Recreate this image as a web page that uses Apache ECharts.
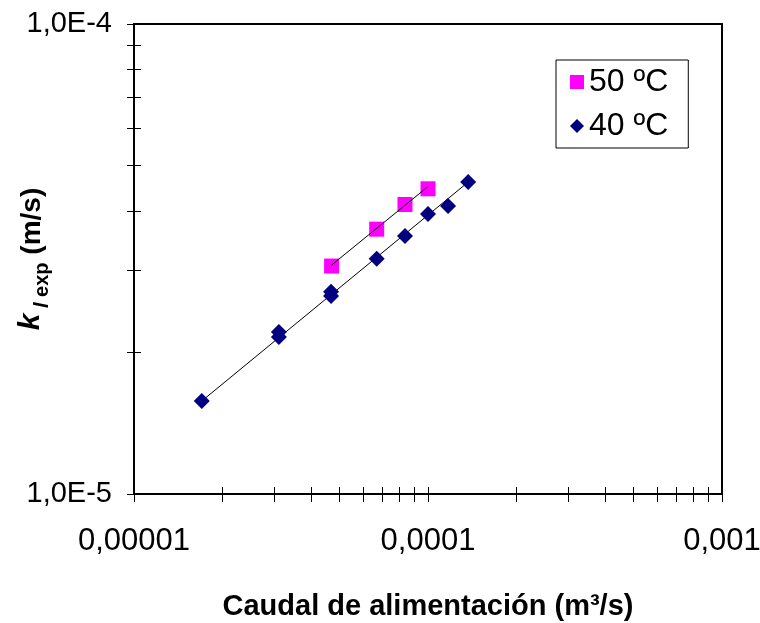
<!DOCTYPE html>
<html>
<head>
<meta charset="utf-8">
<script src="https://cdn.jsdelivr.net/npm/echarts@6/dist/echarts.min.js"></script>
<style>html,body{margin:0;padding:0;background:#fff}#c{width:760px;height:623px}</style>
</head>
<body>
<div id="c"></div>
<script>
// ---- data ----
const series50Name = '50 ºC';
const series40Name = '40 ºC';
const q50 = [4.70e-5, 6.69e-5, 8.35e-5, 1.00e-4];
const k50 = [3.055e-5, 3.66e-5, 4.13e-5, 4.46e-5];
const q40 = [1.70e-5, 3.11e-5, 3.11e-5, 4.68e-5, 4.68e-5, 6.69e-5, 8.35e-5, 1.00e-4, 1.17e-4, 1.37e-4];
const k40 = [1.577e-5, 2.158e-5, 2.212e-5, 2.638e-5, 2.694e-5, 3.167e-5, 3.54e-5, 3.94e-5, 4.10e-5, 4.61e-5];
// trend lines (end points)
const fit50X = [4.70e-5, 1.00e-4];
const fit50Y = [3.07e-5, 4.51e-5];
const fit40X = [1.70e-5, 1.37e-4];
const fit40Y = [1.577e-5, 4.61e-5];
// axis ticks
const xLabelValues = [1e-5, 1e-4, 1e-3];
const xLabelTexts = ['0,00001', '0,0001', '0,001'];
const yLabelValues = [1e-5, 1e-4];
const yLabelTexts = ['1,0E-5', '1,0E-4'];
const xTickValues = [1e-5,2e-5,3e-5,4e-5,5e-5,6e-5,7e-5,8e-5,9e-5,1e-4,2e-4,3e-4,4e-4,5e-4,6e-4,7e-4,8e-4,9e-4,1e-3];
const yTickValues = [1e-5,2e-5,3e-5,4e-5,5e-5,6e-5,7e-5,8e-5,9e-5,1e-4];

const zip = (a, b) => a.map((v, i) => [v, b[i]]);
const fontFam = 'Liberation Sans, Arial, sans-serif';
function labelFor(values, texts) {
  return v => {
    for (let i = 0; i < values.length; i++) {
      if (Math.abs(Math.log10(v) - Math.log10(values[i])) < 1e-6) return texts[i];
    }
    return '';
  };
}

const chart = echarts.init(document.getElementById('c'), null, {renderer: 'canvas'});
// secondary axes: inward half of the crossing tick marks
const innerX = {
  type: 'log', min: 1e-5, max: 1e-3, position: 'bottom',
  axisLine: {show: true, lineStyle: {color: '#000', width: 2}},
  axisTick: {show: true, inside: true, length: 7, lineStyle: {color: '#000', width: 1}, customValues: xTickValues},
  axisLabel: {show: false},
  splitLine: {show: false}
};
const innerY = {
  type: 'log', min: 1e-5, max: 1e-4, position: 'left',
  axisLine: {show: true, lineStyle: {color: '#000', width: 2}},
  axisTick: {show: true, inside: true, length: 7, lineStyle: {color: '#000', width: 1}, customValues: yTickValues},
  axisLabel: {show: false},
  splitLine: {show: false}
};
// frame axes: top and right border of the plot area
const topX = {
  type: 'log', min: 1e-5, max: 1e-3, position: 'top',
  axisLine: {show: true, lineStyle: {color: '#000', width: 2}},
  axisTick: {show: false}, axisLabel: {show: false}, splitLine: {show: false}
};
const rightY = {
  type: 'log', min: 1e-5, max: 1e-4, position: 'right',
  axisLine: {show: true, lineStyle: {color: '#000', width: 2}},
  axisTick: {show: false}, axisLabel: {show: false}, splitLine: {show: false}
};
chart.setOption({
  animation: false,
  backgroundColor: '#fff',
  grid: {left: 134, right: 38, top: 24, bottom: 129, show: false, containLabel: false, outerBoundsMode: 'none'},
  legend: {
    left: 556, top: 60, orient: 'vertical',
    data: [series50Name, series40Name],
    backgroundColor: '#fff', borderColor: '#000', borderWidth: 1,
    padding: [6, 20, 6, 14], itemGap: 12, itemWidth: 14, itemHeight: 14,
    textStyle: {fontFamily: fontFam, fontSize: 32, color: '#000'}
  },
  xAxis: [
    {
      type: 'log', min: 1e-5, max: 1e-3, position: 'bottom',
      splitLine: {show: false},
      axisLine: {show: true, lineStyle: {color: '#000', width: 2}},
      axisTick: {show: true, inside: false, length: 8, lineStyle: {color: '#000', width: 1}, customValues: xTickValues},
      axisLabel: {show: true, margin: 32, color: '#000', fontFamily: fontFam, fontSize: 31,
        customValues: xLabelValues, formatter: labelFor(xLabelValues, xLabelTexts)},
      name: 'Caudal de alimentación (m³/s)', nameLocation: 'middle', nameGap: 98, nameMoveOverlap: false,
      nameTextStyle: {fontFamily: fontFam, fontSize: 29, fontWeight: 'bold', color: '#000'}
    },
    innerX,
    topX
  ],
  yAxis: [
    {
      type: 'log', min: 1e-5, max: 1e-4, position: 'left',
      splitLine: {show: false},
      axisLine: {show: true, lineStyle: {color: '#000', width: 2}},
      axisTick: {show: true, inside: false, length: 7, lineStyle: {color: '#000', width: 1}, customValues: yTickValues},
      axisLabel: {show: true, margin: 22, color: '#000', fontFamily: fontFam, fontSize: 29,
        customValues: yLabelValues, formatter: labelFor(yLabelValues, yLabelTexts)},
      name: '{k|k}{l| l}{e| exp}{n| (m/s)}', nameLocation: 'middle', nameGap: 88, nameRotate: 90, nameMoveOverlap: false,
      nameTextStyle: {
        color: '#000', fontFamily: fontFam,
        rich: {
          k: {fontFamily: fontFam, fontSize: 30, fontWeight: 'bold', fontStyle: 'italic', color: '#000', lineHeight: 36, verticalAlign: 'bottom'},
          l: {fontFamily: fontFam, fontSize: 20, fontWeight: 'bold', fontStyle: 'italic', color: '#000', lineHeight: 36, verticalAlign: 'bottom', padding: [0, 0, -6, 0]},
          e: {fontFamily: fontFam, fontSize: 20, fontWeight: 'bold', color: '#000', lineHeight: 36, verticalAlign: 'bottom', padding: [0, 0, -6, 0]},
          n: {fontFamily: fontFam, fontSize: 28, fontWeight: 'bold', color: '#000', lineHeight: 36, verticalAlign: 'bottom'}
        }
      }
    },
    innerY,
    rightY
  ],
  series: [
    {name: 'fit50', type: 'line', xAxisIndex: 1, yAxisIndex: 1, data: zip(fit50X, fit50Y),
      showSymbol: false, symbol: 'none', lineStyle: {color: '#000', width: 1}, z: 3, silent: true},
    {name: 'fit40', type: 'line', xAxisIndex: 2, yAxisIndex: 2, data: zip(fit40X, fit40Y),
      showSymbol: false, symbol: 'none', lineStyle: {color: '#000', width: 1}, z: 3, silent: true},
    {name: series50Name, type: 'scatter', xAxisIndex: 0, yAxisIndex: 0, data: zip(q50, k50),
      symbol: 'rect', symbolSize: 15, itemStyle: {color: '#FF00FF', opacity: 1}, z: 2},
    {name: series40Name, type: 'scatter', xAxisIndex: 0, yAxisIndex: 0, data: zip(q40, k40),
      symbol: 'diamond', symbolSize: [16, 16], itemStyle: {color: '#000080', opacity: 1}, z: 4}
  ]
});
</script>
</body>
</html>
